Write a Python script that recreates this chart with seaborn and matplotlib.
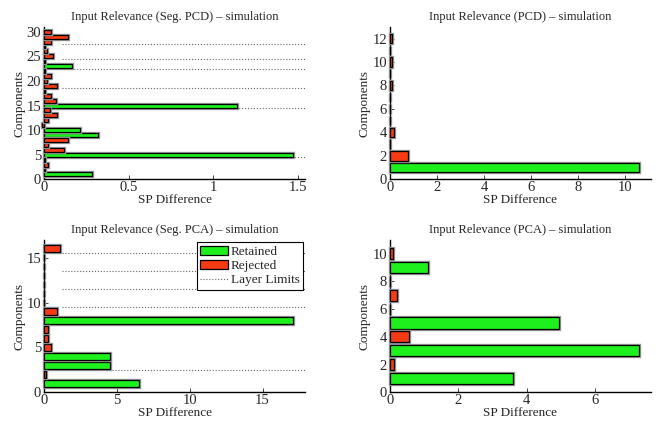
import numpy as np
import pandas as pd
import matplotlib
matplotlib.use('Agg')
import matplotlib.pyplot as plt
import matplotlib.patheffects as pe
from matplotlib.patches import Patch
from matplotlib.lines import Line2D
import seaborn as sns

# Seg. PCD (30 components)
seg_pcd_val = [0.285, 0.003, 0.026, 0.003, 1.47, 0.116, 0.026, 0.142, 0.32, 0.21,
               -0.01, 0.026, 0.075, 0.035, 1.138, 0.072, 0.04, 0.003, 0.075, 0.015,
               0.044, 0.003, 0.163, 0.003, 0.053, 0.02, 0.003, 0.04, 0.142, 0.044]
seg_pcd_keep = [1, 0, 0, 0, 1, 0, 0, 0, 1, 1,
                0, 0, 0, 0, 1, 0, 0, 0, 0, 0,
                0, 0, 1, 0, 0, 0, 0, 0, 0, 0]
seg_pcd_limits = [4.5, 14.5, 18.5, 22.5, 24.5, 27.5]

# PCD (12 components)
pcd_val = [10.56, 0.76, 0.03, 0.17, 0.02, 0.01, 0.02, 0.1, 0.02, 0.12, 0.02, 0.1]
pcd_keep = [1, 0, 0, 0, 0, 0, 0, 0, 0, 0, 0, 0]

# Seg. PCA (16 components)
seg_pca_val = [6.5, 0.12, 4.56, 4.56, 0.46, 0.27, 0.27, 17.09, 0.87, 0.0,
               0.0, 0.03, 0.0, 0.0, 0.0, 1.1]
seg_pca_keep = [1, 0, 1, 1, 0, 0, 0, 1, 0, 0, 0, 0, 0, 0, 0, 0]
seg_pca_limits = [2.5, 9.5, 11.5, 13.5, 15.5]

# PCA (10 components)
pca_val = [3.61, 0.12, 7.26, 0.57, 4.94, 0.02, 0.21, 0.01, 1.12, 0.09]
pca_keep = [1, 0, 1, 0, 1, 0, 0, 0, 1, 0]

green = '#1EF01E'
red = '#F53A14'

sns.set_style('ticks')
plt.rcParams['font.family'] = ['Liberation Serif', 'DejaVu Serif']

fig, axes = plt.subplots(2, 2, figsize=(6.57, 4.26), dpi=100)
fig.subplots_adjust(left=0.067, right=0.991, top=0.937, bottom=0.079,
                    wspace=0.322, hspace=0.397)

panels = [
    (axes[0, 0], seg_pcd_val, seg_pcd_keep, seg_pcd_limits,
     'Input Relevance (Seg. PCD) \u2013 simulation', [0, 0.5, 1, 1.5], ['0', '0.5', '1', '1.5'], 5),
    (axes[0, 1], pcd_val, pcd_keep, [],
     'Input Relevance (PCD) \u2013 simulation', [0, 2, 4, 6, 8, 10], None, 2),
    (axes[1, 0], seg_pca_val, seg_pca_keep, seg_pca_limits,
     'Input Relevance (Seg. PCA) \u2013 simulation', [0, 5, 10, 15], None, 5),
    (axes[1, 1], pca_val, pca_keep, [],
     'Input Relevance (PCA) \u2013 simulation', [0, 2, 4, 6], None, 2),
]

for ax, vals, keep, limits, title, xt, xtl, ystep in panels:
    n = len(vals)
    df = pd.DataFrame({
        'comp': np.arange(1, n + 1),
        'sp': vals,
        'status': ['Retained' if k else 'Rejected' for k in keep],
    })
    sns.barplot(data=df, x='sp', y='comp', hue='status', orient='y',
                native_scale=True, dodge=False, width=0.8, saturation=1,
                palette={'Retained': green, 'Rejected': red},
                edgecolor='black', linewidth=0.9, ax=ax, legend=False,
                zorder=3)
    for p in ax.patches:
        p.set_path_effects([pe.withStroke(linewidth=2.4, foreground='0.6')])
        p.set_clip_on(False)
    for lim in limits:
        ax.axhline(lim, xmin=0.07, xmax=1, color='0.4', linestyle=':',
                   linewidth=0.8, zorder=1)
    ax.set_xlim(0, max(vals) * 1.05)
    ax.set_ylim(0, n + 1)
    ax.set_xticks(xt)
    if xtl:
        ax.set_xticklabels(xtl)
    ax.set_yticks(np.arange(0, n + 1, ystep))
    ax.tick_params(direction='in', length=3, width=0.6, labelsize=10.5)
    ax.tick_params(axis='x', pad=1)
    ax.tick_params(axis='y', pad=2)
    ax.set_xlabel('SP Difference', fontsize=9.5, labelpad=0)
    ax.set_ylabel('Components', fontsize=9.5, labelpad=1)
    ax.set_title(title, fontsize=9, pad=5)
    sns.despine(ax=ax)
    for s in ['left', 'bottom']:
        ax.spines[s].set_linewidth(1.0)
        ax.spines[s].set_color('black')

handles = [Patch(facecolor=green, edgecolor='black', linewidth=0.9),
           Patch(facecolor=red, edgecolor='black', linewidth=0.9),
           Line2D([], [], color='0.4', linestyle=':', linewidth=0.8)]
leg = axes[1, 0].legend(handles, ['Retained', 'Rejected', 'Layer Limits'],
                        loc='upper right', fontsize=9.5, frameon=True, fancybox=False,
                        edgecolor='black', framealpha=1, borderpad=0.25,
                        labelspacing=0.15, handlelength=2.1, handletextpad=0.2,
                        borderaxespad=0.2)
leg.get_frame().set_linewidth(0.8)

fig.savefig('out.png', dpi=100)
